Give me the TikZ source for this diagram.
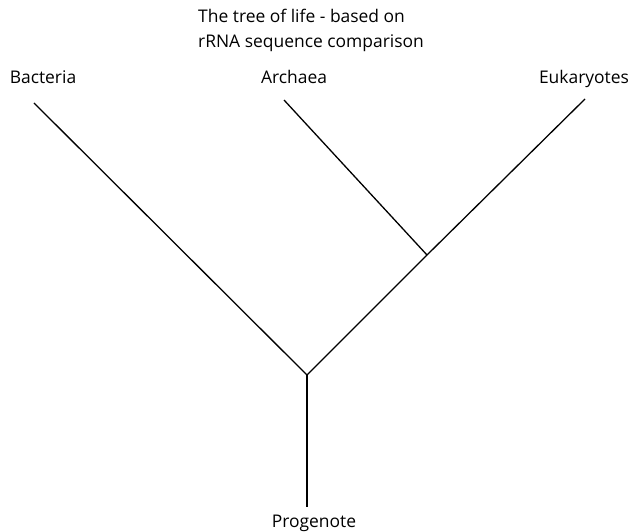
\documentclass[tikz,border=0pt]{standalone}
\usepackage{fontspec}
\setmainfont{Open Sans}
\begin{document}
\begin{tikzpicture}[x=1bp,y=-1bp,
  lbl/.style={inner sep=0pt, anchor=base, font=\fontsize{17.5}{24}\selectfont},
  branch/.style={line width=1.3bp, black}]
\useasboundingbox (0,0) rectangle (631,532);
\node[lbl, anchor=base west] (title1) at (198,23) {The tree of life - based on};
\node[lbl, anchor=base west] (title2) at (198,48) {rRNA sequence comparison};
\node[lbl] (bac) at (43,84) {Bacteria};
\node[lbl] (arc) at (294,84) {Archaea};
\node[lbl] (euk) at (584,84) {Eukaryotes};
\node[lbl] (pro) at (314,527) {Progenote};
\coordinate (bt) at (34,103);
\coordinate (at) at (284,100);
\coordinate (et) at (585,99);
\coordinate (j1) at (427,255);
\coordinate (j0) at (307,375);
\coordinate (rt) at (307,507);
\draw[branch] (bt) -- (j0);
\draw[branch] (et) -- (j1) -- (j0);
\draw[branch] (at) -- (j1);
\draw[branch] (j0) -- (rt);
\end{tikzpicture}
\end{document}
